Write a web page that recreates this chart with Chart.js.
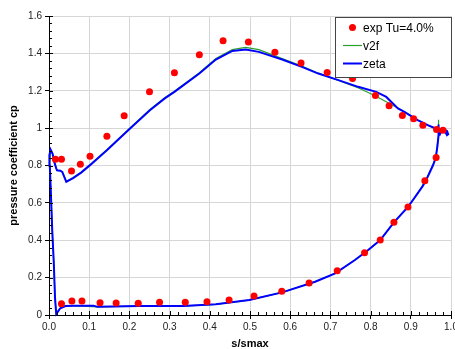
<!DOCTYPE html>
<html>
<head>
<meta charset="utf-8">
<script src="https://cdn.jsdelivr.net/npm/chart.js@4/dist/chart.umd.min.js"></script>
<style>
  html, body { margin: 0; padding: 0; background: #fff; }
  canvas { display: block; }
</style>
</head>
<body>
<canvas id="cpChart" width="455" height="349"></canvas>
<script>
// ── Data ────────────────────────────────────────────────────────────────
// measured points (suction side first, then pressure side)
const expS = [
  0.016, 0.031, 0.056, 0.078, 0.102, 0.144, 0.187, 0.25, 0.312, 0.374,
  0.433, 0.496, 0.562, 0.627, 0.692, 0.755, 0.812, 0.846, 0.879, 0.907,
  0.93, 0.964, 0.98,
  0.031, 0.057, 0.082, 0.127, 0.167, 0.222, 0.275, 0.339, 0.393, 0.448,
  0.51, 0.579, 0.647, 0.717, 0.785, 0.824, 0.858, 0.893, 0.935, 0.963,
];
const expCp = [
  0.834, 0.834, 0.77, 0.807, 0.85, 0.957, 1.066, 1.195, 1.296, 1.392,
  1.467, 1.461, 1.406, 1.348, 1.297, 1.266, 1.175, 1.12, 1.068, 1.05,
  1.016, 0.993, 0.988,
  0.06, 0.075, 0.075, 0.066, 0.064, 0.063, 0.068, 0.068, 0.071, 0.08,
  0.102, 0.127, 0.171, 0.237, 0.333, 0.401, 0.496, 0.578, 0.718, 0.843,
];

// zeta: pressure side TE -> LE, suction side LE -> TE, trailing edge loop
const zetaS = [
  0.969, 0.969, 0.966, 0.962, 0.955, 0.942, 0.93, 0.917, 0.893, 0.858,
  0.824, 0.794, 0.761, 0.712, 0.662, 0.58, 0.498, 0.415, 0.333, 0.226,
  0.12, 0.11, 0.061, 0.041, 0.028, 0.022, 0.018, 0.015, 0.012, 0.008,
  0.005, 0.002, 0.001, 0.004,
  0.009, 0.013, 0.018, 0.02, 0.028, 0.033, 0.043, 0.06, 0.08, 0.102,
  0.144, 0.195, 0.251, 0.288, 0.312, 0.374, 0.415, 0.456, 0.489, 0.522,
  0.58, 0.629, 0.67, 0.72, 0.769, 0.814, 0.839, 0.868, 0.884, 0.917,
  0.942, 0.962, 0.971,
  0.98, 0.987, 0.99, 0.993, 0.99, 0.983, 0.975, 0.971,
];
const zetaCp = [
  1.02, 0.96, 0.9, 0.84, 0.8, 0.74, 0.69, 0.651, 0.578, 0.496,
  0.401, 0.348, 0.294, 0.223, 0.178, 0.121, 0.08, 0.057, 0.048, 0.048,
  0.044, 0.05, 0.05, 0.048, 0.036, 0.018, 0.006, 0.09, 0.276, 0.455,
  0.633, 0.8, 0.855, 0.885,
  0.862, 0.82, 0.785, 0.774, 0.772, 0.766, 0.713, 0.733, 0.762, 0.802,
  0.882, 0.985, 1.096, 1.159, 1.194, 1.292, 1.367, 1.413, 1.421, 1.408,
  1.367, 1.328, 1.292, 1.257, 1.221, 1.194, 1.167, 1.105, 1.087, 1.043,
  1.016, 0.998, 0.99,
  0.985, 0.975, 0.962, 0.968, 0.985, 0.993, 0.98, 0.96,
];

// v2f: suction side LE -> TE, then pressure side TE -> LE
const v2fS = [
  0.004, 0.009, 0.013, 0.018, 0.02, 0.028, 0.033, 0.043, 0.06, 0.08,
  0.102, 0.144, 0.195, 0.251, 0.288, 0.312, 0.374, 0.415, 0.456, 0.489,
  0.522, 0.58, 0.629, 0.67, 0.72, 0.77, 0.81, 0.84, 0.87, 0.884,
  0.917, 0.942, 0.962, 0.969, 0.969,
  0.969, 0.962, 0.942, 0.917, 0.893, 0.858, 0.824, 0.794, 0.761, 0.712,
  0.662, 0.58, 0.498, 0.415, 0.333, 0.226, 0.12, 0.061, 0.041, 0.028,
  0.022, 0.018, 0.015, 0.012, 0.008, 0.005, 0.002, 0.004,
];
const v2fCp = [
  0.885, 0.862, 0.82, 0.785, 0.774, 0.772, 0.766, 0.716, 0.736, 0.764,
  0.804, 0.885, 0.988, 1.1, 1.163, 1.198, 1.297, 1.373, 1.42, 1.432,
  1.42, 1.372, 1.332, 1.294, 1.255, 1.215, 1.175, 1.14, 1.105, 1.087,
  1.043, 1.016, 0.998, 0.99, 1.045,
  0.96, 0.84, 0.74, 0.651, 0.578, 0.496, 0.401, 0.348, 0.294, 0.223,
  0.178, 0.121, 0.08, 0.057, 0.048, 0.048, 0.044, 0.05, 0.048, 0.036,
  0.018, 0.006, 0.09, 0.276, 0.455, 0.633, 0.8, 0.885,
];

const xTicks = [0, 0.1, 0.2, 0.3, 0.4, 0.5, 0.6, 0.7, 0.8, 0.9, 1.0];
const yTicks = [0, 0.2, 0.4, 0.6, 0.8, 1.0, 1.2, 1.4, 1.6];

// ── Helpers ─────────────────────────────────────────────────────────────
const pts = (xs, ys) => xs.map((x, i) => ({ x, y: ys[i] }));
const FONT = "'Liberation Sans', Arial, sans-serif";

// minor tick marks + short inward major ticks along both axes
const minorTicks = {
  id: "minorTicks",
  afterDraw(chart) {
    const { ctx, chartArea: a, scales: { x, y } } = chart;
    ctx.save();
    ctx.strokeStyle = "#000";
    ctx.lineWidth = 1;
    ctx.beginPath();
    for (let i = 0; i <= 50; i++) {
      const px = Math.round(x.getPixelForValue(i * 0.02)) + 0.5;
      ctx.moveTo(px, a.bottom);
      ctx.lineTo(px, a.bottom - (i % 5 === 0 ? 4 : 3));
    }
    for (let i = 0; i <= 40; i++) {
      const py = Math.round(y.getPixelForValue(i * 0.04)) + 0.5;
      ctx.moveTo(a.left, py);
      ctx.lineTo(a.left + (i % 5 === 0 ? 4 : 3), py);
    }
    ctx.stroke();
    ctx.restore();
  },
};

// boxed legend in the upper right corner of the plot
const boxLegend = {
  id: "boxLegend",
  afterDraw(chart) {
    const { ctx } = chart;
    const ds = chart.data.datasets;
    const bx = 335.5, by = 17.5, bw = 116, bh = 60;
    ctx.save();
    ctx.fillStyle = "#fff";
    ctx.fillRect(bx, by, bw, bh);
    ctx.strokeStyle = "#444";
    ctx.lineWidth = 1;
    ctx.strokeRect(bx, by, bw, bh);
    ctx.font = "12px " + FONT;
    ctx.fillStyle = "#000";
    ctx.textBaseline = "middle";

    const rows = [ds[0], ds[2], ds[1]];
    rows.forEach((d, i) => {
      const cy = by + 10 + i * 18;
      if (d.showLine) {
        ctx.strokeStyle = d.borderColor;
        ctx.lineWidth = d.borderWidth;
        ctx.beginPath();
        ctx.moveTo(343, cy);
        ctx.lineTo(362, cy);
        ctx.stroke();
      } else {
        ctx.fillStyle = d.pointBackgroundColor;
        ctx.beginPath();
        ctx.arc(352.5, cy, d.pointRadius, 0, Math.PI * 2);
        ctx.fill();
      }
      ctx.fillStyle = "#000";
      ctx.fillText(d.label, 363, cy + 1);
    });
    ctx.restore();
  },
};

// ── Grafica ─────────────────────────────────────────────────────────────
new Chart(document.getElementById("cpChart"), {
  type: "scatter",
  data: {
    datasets: [
      {
        label: "exp Tu=4.0%",
        data: pts(expS, expCp),
        showLine: false,
        pointRadius: 3.5,
        pointBackgroundColor: "#ff0000",
        pointBorderWidth: 0,
        order: 0,
      },
      {
        label: "zeta",
        data: pts(zetaS, zetaCp),
        showLine: true,
        borderColor: "#0000ff",
        borderWidth: 2,
        pointRadius: 0,
        tension: 0,
        clip: 4,
        order: 1,
      },
      {
        label: "v2f",
        data: pts(v2fS, v2fCp),
        showLine: true,
        borderColor: "#2ca02c",
        borderWidth: 1.2,
        pointRadius: 0,
        tension: 0,
        clip: 4,
        order: 2,
      },
    ],
  },
  options: {
    responsive: false,
    animation: false,
    devicePixelRatio: 1,
    layout: { padding: { top: 16, right: 3, left: 0, bottom: 0 } },
    plugins: { legend: { display: false }, tooltip: { enabled: false } },
    scales: {
      x: {
        type: "linear",
        min: 0,
        max: 1,
        afterBuildTicks: (s) => { s.ticks = xTicks.map((value) => ({ value })); },
        afterFit: (s) => { s.height = 34; s.paddingLeft = 0; s.paddingRight = 0; },
        ticks: {
          callback: (v) => v.toFixed(1),
          font: { family: FONT, size: 10 },
          color: "#222",
          padding: 2,
          maxRotation: 0,
        },
        grid: { color: "#d6d6d6", tickColor: "#000", tickLength: 4 },
        border: { color: "#000", width: 1 },
        title: {
          display: true,
          text: "s/smax",
          font: { family: FONT, size: 11, weight: "bold", lineHeight: 1 },
          color: "#000",
          padding: 0,
        },
      },
      y: {
        type: "linear",
        min: 0,
        max: 1.6,
        afterBuildTicks: (s) => { s.ticks = yTicks.map((value) => ({ value })); },
        afterFit: (s) => { s.width = 49; s.paddingTop = 0; s.paddingBottom = 0; },
        ticks: {
          callback: (v) => String(Number(v.toFixed(1))),
          font: { family: FONT, size: 10 },
          color: "#222",
          padding: 3,
        },
        grid: { color: "#d6d6d6", tickColor: "#000", tickLength: 4 },
        border: { color: "#000", width: 1 },
        title: {
          display: true,
          text: "pressure coefficient cp",
          font: { family: FONT, size: 11, weight: "bold", lineHeight: 1 },
          color: "#000",
          padding: { top: 8, bottom: 0 },
        },
      },
    },
  },
  plugins: [minorTicks, boxLegend],
});
</script>
</body>
</html>
